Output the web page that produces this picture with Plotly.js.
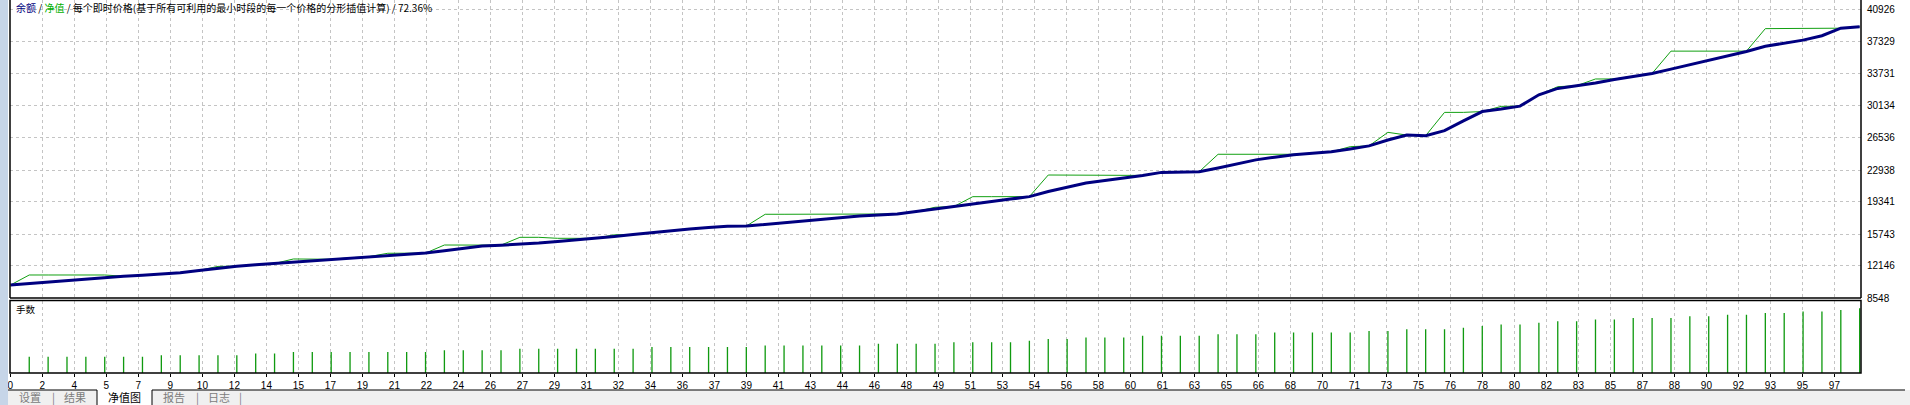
<!DOCTYPE html>
<html>
<head>
<meta charset="utf-8">
<script src="https://cdn.plot.ly/plotly-3.0.1.min.js"></script>
<style>
  html, body { margin: 0; padding: 0; background: #ffffff; }
  #main-screen { width: 1910px; height: 405px; }
</style>
</head>
<body>
<div id="main-screen"></div>
<script>
// ------------------------------------------------------------------------------
// DATA

// balance after each trade (trade 0 = deposit)
const balance = [
    10000, 10170, 10340, 10515, 10690, 10860, 10995, 11095, 11195, 11375,
    11645, 11910, 12130, 12280, 12425, 12580, 12745, 12905, 13070, 13200,
    13325, 13455, 13595, 13860, 14130, 14395, 14490, 14585, 14730, 14905,
    15080, 15255, 15470, 15690, 15905, 16120, 16315, 16460, 16605, 16635,
    16820, 17030, 17225, 17400, 17580, 17755, 17865, 17995, 18265, 18530,
    18830, 19110, 19390, 19665, 19945, 20525, 21005, 21470, 21750, 22025,
    22330, 22670, 22730, 22745, 23170, 23665, 24075, 24380, 24655, 24810,
    24980, 25305, 25650, 26305, 26865, 26795, 27365, 28465, 29510, 29790,
    30120, 31390, 32110, 32410, 32715, 33115, 33480, 33790, 34280, 34770,
    35265, 35765, 36260, 36845, 37225, 37540, 38035, 38880, 39050
];

// equity at each trade
const equity = [
    10000, 11135, 11135, 11135, 11135, 11135, 10995, 11095, 11195, 11375,
    11645, 12100, 12130, 12280, 12425, 12935, 12935, 12905, 13070, 13200,
    13575, 13575, 13595, 14505, 14505, 14505, 14490, 15370, 15370, 15260,
    15260, 15255, 15650, 15690, 15905, 16120, 16315, 16460, 16605, 16635,
    17960, 17960, 17960, 17960, 17960, 17960, 17960, 17995, 18265, 18750,
    18830, 19940, 19940, 19940, 19945, 22375, 22375, 22375, 22375, 22375,
    22330, 22670, 22730, 22745, 24705, 24705, 24705, 24705, 24705, 24810,
    24980, 25560, 25650, 27170, 26865, 26795, 29415, 29415, 29510, 30090,
    30120, 31390, 32305, 32410, 33170, 33170, 33480, 33790, 36300, 36300,
    36300, 36300, 36300, 38830, 38830, 38830, 38830, 38880, 39050
];

// lot size of trades 1..98
const lots = [
    1.0, 1.0, 1.0, 1.0, 1.0, 1.0, 1.0, 1.1, 1.1, 1.1,
    1.1, 1.1, 1.2, 1.2, 1.3, 1.3, 1.3, 1.3, 1.3, 1.3,
    1.3, 1.3, 1.4, 1.4, 1.4, 1.4, 1.5, 1.5, 1.5, 1.5,
    1.5, 1.5, 1.5, 1.6, 1.6, 1.6, 1.6, 1.6, 1.6, 1.7,
    1.7, 1.7, 1.7, 1.7, 1.7, 1.8, 1.8, 1.8, 1.8, 1.9,
    1.9, 1.9, 1.9, 2.0, 2.1, 2.1, 2.2, 2.2, 2.2, 2.3,
    2.3, 2.3, 2.3, 2.4, 2.4, 2.4, 2.5, 2.5, 2.5, 2.5,
    2.5, 2.6, 2.6, 2.7, 2.7, 2.7, 2.8, 2.9, 3.0, 3.0,
    3.1, 3.2, 3.2, 3.3, 3.3, 3.4, 3.4, 3.4, 3.5, 3.5,
    3.6, 3.6, 3.7, 3.7, 3.8, 3.8, 3.9, 4.0
];

const xTickText = [
    '0', '2', '4', '5', '7', '9', '10', '12', '14', '15', '17', '19', '21', '22', '24',
    '26', '27', '29', '31', '32', '34', '36', '37', '39', '41', '43', '44', '46', '48',
    '49', '51', '53', '54', '56', '58', '60', '61', '63', '65', '66', '68', '70', '71',
    '73', '75', '76', '78', '80', '82', '83', '85', '87', '88', '90', '92', '93', '95', '97'
];

const yTickVals = [8548, 12146, 15743, 19341, 22938, 26536, 30134, 33731, 37329, 40926];

// ------------------------------------------------------------------------------
// PARAMETERS

const font_cjk   = '"Noto Sans CJK SC", "Noto Sans", sans-serif';
const font_axis  = '"Liberation Sans", Arial, sans-serif';
const grid_color = '#c4c4c4';
const tab_gray   = '#7c7c7c';

// pixel layout of the tester window -> paper coords
const plotL = 10, plotR = 1861, plotB = 373;
const px = v => (v - plotL) / (plotR - plotL);
const py = v => (plotB - v) / plotB;

const upperBottom = py(298);
const lowerTop    = py(300.5);

// one x tick every 32 px, 18.87 px per trade
const xTickVals = xTickText.map((_, k) => k * 32 / 18.87);

const trades    = balance.map((_, i) => i);
const lotTrades = lots.map((_, i) => i + 1);

const displayConfig = {
    displayModeBar: false,
    staticPlot: true
};

// ------------------------------------------------------------------------------
// TRACES

const equity_line = {
    x: trades,
    y: equity,
    mode: 'lines',
    type: 'scatter',
    line: { color: '#12a012', width: 1 },
    hoverinfo: 'skip',
    xaxis: 'x',
    yaxis: 'y'
};

const balance_line = {
    x: trades,
    y: balance,
    mode: 'lines',
    type: 'scatter',
    line: { color: '#000080', width: 3 },
    hoverinfo: 'skip',
    xaxis: 'x',
    yaxis: 'y'
};

const lot_bars = {
    x: lotTrades,
    y: lots,
    type: 'bar',
    width: 0.07,
    marker: { color: '#109a10', line: { width: 0 } },
    hoverinfo: 'skip',
    xaxis: 'x',
    yaxis: 'y2'
};

// ------------------------------------------------------------------------------
// LAYOUT

function line(x0, y0, x1, y1, color, width) {
    return {
        type: 'line', xref: 'paper', yref: 'paper',
        x0: x0, y0: y0, x1: x1, y1: y1,
        line: { color: color, width: width }
    };
}

const shapes = [
    // tab strip
    {
        type: 'rect', xref: 'paper', yref: 'paper', layer: 'below',
        x0: px(0), x1: px(1910), y0: py(405), y1: py(390),
        fillcolor: '#f0f0f0', line: { width: 0 }
    },
    {
        type: 'rect', xref: 'paper', yref: 'paper', layer: 'below',
        x0: px(97), x1: px(152), y0: py(405), y1: py(390),
        fillcolor: '#ffffff', line: { width: 0 }
    },
    line(px(0), py(390), px(97), py(390), '#000000', 1),
    line(px(152), py(390), px(1905), py(390), '#000000', 1),
    line(px(97), py(390), px(97), py(405), '#000000', 1),
    line(px(152), py(390), px(152), py(405), '#000000', 1),
    // window frame at the left
    {
        type: 'rect', xref: 'paper', yref: 'paper',
        x0: px(0), x1: px(8), y0: py(405), y1: 1,
        fillcolor: '#c6d5e8', line: { width: 0 }
    },
    // upper panel frame
    line(0, upperBottom, 0, 1, '#000000', 1.5),
    line(1, upperBottom, 1, 1, '#000000', 1.5),
    line(0, upperBottom, 1, upperBottom, '#000000', 1.5),
    // lower panel frame
    {
        type: 'rect', xref: 'paper', yref: 'paper',
        x0: 0, x1: 1, y0: 0, y1: lowerTop,
        line: { color: '#000000', width: 1.5 }
    }
];

const tabs = [
    { t: '设置', x: 30,    c: tab_gray },
    { t: '|',    x: 53,    c: tab_gray },
    { t: '结果', x: 74.5,  c: tab_gray },
    { t: '净值图', x: 124.5, c: '#000000' },
    { t: '报告', x: 174,   c: tab_gray },
    { t: '|',    x: 197,   c: tab_gray },
    { t: '日志', x: 218.5, c: tab_gray },
    { t: '|',    x: 240,   c: tab_gray }
];

const annotations = [
    {
        text: '<span style="color:#000080">余额</span> / <span style="color:#00b000">净值</span> / 每个即时价格(基于所有可利用的最小时段的每一个价格的分形插值计算) / 72.36%',
        x: px(14), y: py(7),
        xref: 'paper', yref: 'paper',
        xanchor: 'left', yanchor: 'middle',
        showarrow: false,
        font: { family: font_cjk, size: 10, color: '#000000' }
    },
    {
        text: '手数',
        x: px(14), y: py(309),
        xref: 'paper', yref: 'paper',
        xanchor: 'left', yanchor: 'middle',
        showarrow: false,
        font: { family: font_cjk, size: 9.5, color: '#000000' }
    }
].concat(tabs.map(tab => ({
    text: tab.t,
    x: px(tab.x), y: py(397),
    xref: 'paper', yref: 'paper',
    xanchor: 'center', yanchor: 'middle',
    showarrow: false,
    borderpad: 0,
    font: { family: font_cjk, size: 11, color: tab.c }
})));

const layout = {
    width: 1910,
    height: 405,
    showlegend: false,
    paper_bgcolor: '#ffffff',
    plot_bgcolor: '#ffffff',
    margin: { l: plotL, r: 1910 - plotR, t: 0, b: 405 - plotB, pad: 0 },
    xaxis: {
        range: [-0.02, 98.07],
        autorange: false,
        anchor: 'y2',
        tickmode: 'array',
        tickvals: xTickVals,
        ticktext: xTickText,
        ticks: 'outside',
        ticklen: 3,
        tickcolor: '#000000',
        tickfont: { family: font_axis, size: 10, color: '#000000' },
        showgrid: true,
        gridcolor: grid_color,
        griddash: '3px,3px',
        gridwidth: 1,
        zeroline: false,
        showline: false
    },
    yaxis: {
        domain: [upperBottom, 1],
        range: [8548, 42049],
        autorange: false,
        anchor: 'x',
        side: 'right',
        tickmode: 'array',
        tickvals: yTickVals,
        ticktext: yTickVals.map(String),
        ticks: '',
        ticklabelstandoff: 5,
        tickfont: { family: font_axis, size: 10, color: '#000000' },
        showgrid: true,
        gridcolor: grid_color,
        griddash: '3px,3px',
        gridwidth: 1,
        zeroline: false,
        showline: false
    },
    yaxis2: {
        domain: [0, lowerTop],
        range: [0, 4.48],
        autorange: false,
        anchor: 'x',
        showgrid: false,
        showticklabels: false,
        ticks: '',
        zeroline: false,
        showline: false
    },
    shapes: shapes,
    annotations: annotations
};

Plotly.newPlot('main-screen', [equity_line, balance_line, lot_bars], layout, displayConfig);
</script>
</body>
</html>
